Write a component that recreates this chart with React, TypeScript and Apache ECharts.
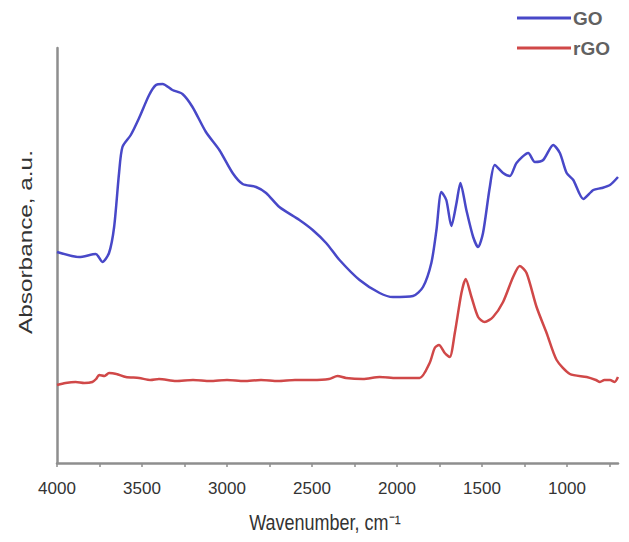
import React, { useEffect, useRef } from "react";
import * as echarts from "echarts";

const goWavenumber = [4000, 3870, 3772, 3733, 3694, 3664, 3635, 3615, 3566, 3517, 3458, 3418, 3379, 3321, 3262, 3203, 3124, 3045, 2967, 2908, 2829, 2770, 2692, 2574, 2496, 2417, 2338, 2220, 2102, 2024, 1906, 1847, 1798, 1768, 1739, 1710, 1680, 1650, 1627, 1592, 1552, 1523, 1494, 1454, 1425, 1376, 1336, 1297, 1228, 1189, 1140, 1081, 1042, 1002, 963, 904, 845, 796, 747, 700];
const goAbsorbance = [211, 206, 209, 201, 210, 236, 290, 316, 328, 345, 368, 378, 379, 373, 369, 356, 331, 313, 290, 279, 276, 270, 256, 243, 233, 220, 203, 183, 170, 166, 167, 176, 200, 233, 271, 263, 237, 260, 280, 253, 226, 216, 230, 276, 298, 290, 287, 300, 310, 301, 303, 318, 310, 290, 283, 264, 273, 275, 278, 286];

const rgoWavenumber = [4000, 3950, 3890, 3840, 3792, 3770, 3752, 3720, 3694, 3650, 3595, 3517, 3450, 3400, 3300, 3200, 3100, 3000, 2900, 2800, 2700, 2600, 2500, 2400, 2350, 2300, 2200, 2102, 2004, 1867, 1808, 1778, 1753, 1719, 1690, 1660, 1621, 1596, 1562, 1523, 1484, 1435, 1376, 1317, 1278, 1238, 1179, 1120, 1061, 983, 884, 830, 806, 780, 747, 720, 700];
const rgoAbsorbance = [78, 80, 81, 80, 81, 84, 88, 87, 90, 89, 86, 85, 83, 84, 82, 83, 82, 83, 82, 83, 82, 83, 83, 84, 87, 85, 84, 86, 85, 85, 100, 115, 118, 110, 106, 130, 170, 184, 166, 146, 141, 146, 161, 186, 197, 190, 156, 130, 103, 89, 86, 83, 81, 83, 83, 81, 86];

const tickValues = [750, 1000, 1250, 1500, 1750, 2000, 2250, 2500, 2750, 3000, 3250, 3500, 3750, 4000];
const labelValues = [1000, 1500, 2000, 2500, 3000, 3500, 4000];

const zip = (xs: number[], ys: number[]) => xs.map((x, i) => [x, ys[i]]);

export default function App() {
  const ref = useRef<HTMLDivElement>(null);
  useEffect(() => {
    const chart = echarts.init(ref.current!, null, { renderer: "svg" });
    const font = "'Liberation Sans', Arial, sans-serif";
    chart.setOption({
      animation: false,
      backgroundColor: "#ffffff",
      grid: { left: 57, top: 48, width: 561, height: 415 },
      legend: {
        orient: "vertical",
        left: 517,
        top: 7,
        itemWidth: 54,
        itemHeight: 3,
        itemGap: 8,
        icon: "rect",
        padding: 0,
        textStyle: { fontFamily: font, fontSize: 19, fontWeight: "bold", color: "#616161", padding: [0, 0, 0, -3], lineHeight: 22 },
        data: ["GO", "rGO"],
      },
      xAxis: {
        type: "value",
        min: 700,
        max: 4000,
        inverse: true,
        splitLine: { show: false },
        axisLine: { show: true, lineStyle: { color: "#8e8e8e", width: 2.5 } },
        axisTick: { show: true, length: 4, customValues: tickValues, lineStyle: { color: "#8e8e8e", width: 1.5 } },
        axisLabel: {
          customValues: labelValues,
          formatter: (v: number) => String(v),
          fontFamily: font,
          fontSize: 17,
          color: "#333",
          margin: 17,
        },
      },
      yAxis: {
        type: "value",
        min: 0,
        max: 415,
        splitLine: { show: false },
        axisLine: { show: true, lineStyle: { color: "#8e8e8e", width: 2.5 } },
        axisTick: { show: false },
        axisLabel: { show: false },
      },
      graphic: [
        {
          type: "text",
          x: 325,
          y: 522,
          scaleY: 1.2,
          style: { text: "Wavenumber, cm⁻¹", font: `18px ${font}`, fill: "#333", textAlign: "center", textVerticalAlign: "middle" },
        },
        {
          type: "text",
          x: 25,
          y: 242,
          rotation: Math.PI / 2,
          scaleX: 1.28,
          style: { text: "Absorbance, a.u.", font: `19px ${font}`, fill: "#333", textAlign: "center", textVerticalAlign: "middle" },
        },
      ],
      series: [
        {
          name: "GO",
          type: "line",
          data: zip(goWavenumber, goAbsorbance),
          showSymbol: false,
          symbol: "none",
          smooth: 0.25,
          lineStyle: { color: "#4848c8", width: 2.5 },
          itemStyle: { color: "#4848c8" },
        },
        {
          name: "rGO",
          type: "line",
          data: zip(rgoWavenumber, rgoAbsorbance),
          showSymbol: false,
          symbol: "none",
          smooth: 0.25,
          lineStyle: { color: "#d04848", width: 2.5 },
          itemStyle: { color: "#d04848" },
        },
      ],
    });
    return () => chart.dispose();
  }, []);
  return <div ref={ref} style={{ width: 629, height: 542, position: "absolute", left: 0, top: 0 }} />;
}
